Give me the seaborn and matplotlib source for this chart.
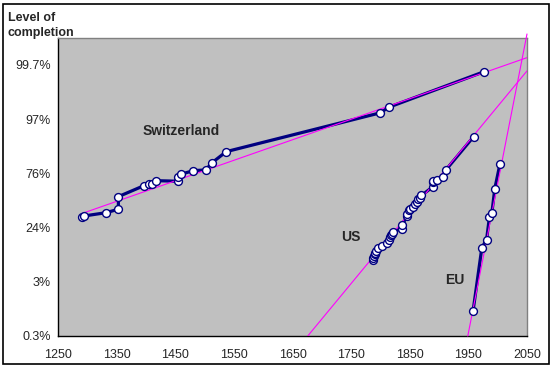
import matplotlib
matplotlib.use("Agg")
import matplotlib.pyplot as plt
from matplotlib.patches import Rectangle
from matplotlib.ticker import FixedLocator, NullLocator
import numpy as np
import pandas as pd
import seaborn as sns

# data (level of completion as fraction)
swiss_years = [1291, 1295, 1332, 1353, 1353, 1397, 1406, 1410, 1417, 1454, 1454,
               1460, 1481, 1502, 1513, 1537, 1799, 1815, 1977]
swiss_level = [0.333, 0.340, 0.372, 0.407, 0.541, 0.654, 0.670, 0.673, 0.700, 0.695, 0.735,
               0.755, 0.782, 0.787, 0.835, 0.890, 0.977, 0.982, 0.996]

us_years = [1787, 1788, 1789, 1790, 1791, 1792, 1795, 1803, 1812, 1815, 1816, 1818, 1819, 1821,
            1836, 1837, 1845, 1846, 1848, 1850, 1856, 1859, 1862, 1864, 1867, 1870,
            1889, 1889, 1890, 1896, 1907, 1912, 1959]
us_level = [0.072, 0.078, 0.085, 0.091, 0.097, 0.103, 0.114, 0.126, 0.141, 0.155, 0.173, 0.186,
            0.195, 0.209, 0.228, 0.255, 0.340, 0.359, 0.400, 0.410, 0.426, 0.460, 0.479, 0.511,
            0.530, 0.553, 0.641, 0.688, 0.700, 0.709, 0.728, 0.789, 0.939]

eu_years = [1958, 1973, 1981, 1986, 1990, 1995, 2004]
eu_level = [0.0087, 0.117, 0.157, 0.333, 0.366, 0.621, 0.829]

# trend lines (start / end)
swiss_trend_years = [1292, 2050]
swiss_trend_level = [0.366, 0.9978]
us_trend_years = [1676, 2050]
us_trend_level = [0.003, 0.99612]
eu_trend_years = [1949, 2050]
eu_trend_level = [0.003, 0.9992]

y_ticks = [0.003, 0.03, 0.24, 0.76, 0.97, 0.997]
y_labels = ["0.3%", "3%", "24%", "76%", "97%", "99.7%"]
x_ticks = list(range(1250, 2051, 100))

sns.set_style("white")
plt.rcParams['font.family'] = ['Liberation Sans', 'DejaVu Sans']

fig = plt.figure(figsize=(5.54, 3.68), dpi=100)
ax = fig.add_axes([58 / 554, 1 - 336 / 368, 469 / 554, 298 / 368])
ax.set_facecolor("#C0C0C0")
ax.set_yscale("logit")

navy = "#000080"
magenta = "#FF00FF"

swiss = pd.DataFrame({"year": swiss_years, "level": swiss_level})
us = pd.DataFrame({"year": us_years, "level": us_level})
eu = pd.DataFrame({"year": eu_years, "level": eu_level})

for df in (swiss, us, eu):
    sns.lineplot(data=df, x="year", y="level", sort=False, estimator=None,
                 color=navy, linewidth=2.3, ax=ax, zorder=2)

sns.lineplot(x=swiss_trend_years, y=swiss_trend_level, color=magenta, linewidth=0.8,
             ax=ax, zorder=3)
sns.lineplot(x=us_trend_years, y=us_trend_level, color=magenta, linewidth=0.8,
             ax=ax, zorder=3)
eu_line = ax.plot(eu_trend_years, eu_trend_level, color=magenta, linewidth=0.8, zorder=3)
eu_line[0].set_clip_on(False)

for df in (swiss, us, eu):
    sns.scatterplot(data=df, x="year", y="level", marker="o", s=32, color="white",
                    edgecolor=navy, linewidth=1.0, ax=ax, zorder=4)

ax.set_xlim(1250, 2050)
ax.set_ylim(0.003, 0.99905)
ax.set_xticks(x_ticks)
ax.set_xticklabels([str(v) for v in x_ticks])
ax.xaxis.set_minor_locator(FixedLocator(list(range(1300, 2050, 100))))
ax.yaxis.set_major_locator(FixedLocator(y_ticks))
ax.set_yticklabels(y_labels)
ax.yaxis.set_minor_locator(NullLocator())
ax.tick_params(axis="both", which="both", direction="out", length=3, width=0.8,
               color="black", labelsize=9, pad=2)
ax.tick_params(axis="x", which="minor", length=3)
ax.tick_params(axis="x", pad=6)
ax.set_xlabel("")
ax.set_ylabel("")

for side in ("top", "right"):
    ax.spines[side].set_color("#808080")
    ax.spines[side].set_linewidth(1.0)
for side in ("bottom", "left"):
    ax.spines[side].set_color("black")
    ax.spines[side].set_linewidth(1.0)

ax.text(0.262, 0.688, "Switzerland", transform=ax.transAxes, ha="center", va="center",
        fontsize=10, fontweight="bold")
ax.text(0.625, 0.332, "US", transform=ax.transAxes, ha="center", va="center",
        fontsize=10, fontweight="bold")
ax.text(0.846, 0.188, "EU", transform=ax.transAxes, ha="center", va="center",
        fontsize=10, fontweight="bold")

fig.text(8 / 554, 1 - 12 / 368, "Level of\ncompletion", ha="left", va="top",
         fontsize=9, fontweight="bold", linespacing=1.3)

fig.patches.append(Rectangle((3 / 554, 4 / 368), 546 / 554, 360 / 368,
                             transform=fig.transFigure, fill=False,
                             edgecolor="black", linewidth=1.2))

fig.savefig("out.png", dpi=100)
